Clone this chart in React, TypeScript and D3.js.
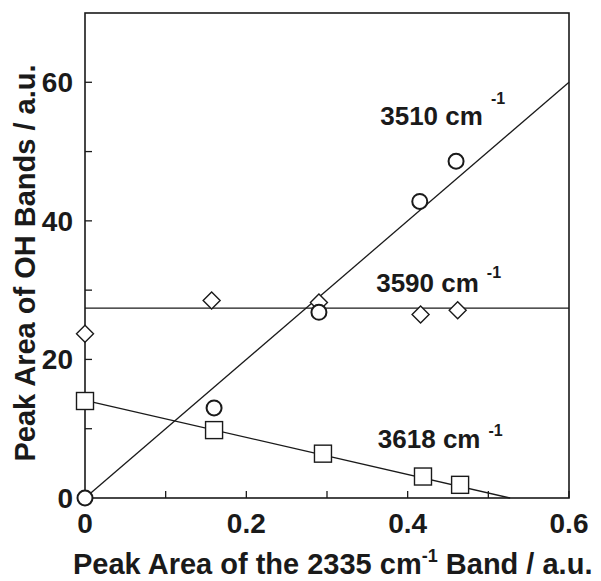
import React from "react";
import * as d3 from "d3";

// ---- data ----
const circleX = [0, 0.16, 0.29, 0.415, 0.46];
const circleY = [0, 13, 26.8, 42.8, 48.6];
const diamondX = [0, 0.157, 0.29, 0.416, 0.462];
const diamondY = [23.7, 28.5, 28.2, 26.5, 27.1];
const squareX = [0, 0.16, 0.295, 0.419, 0.465];
const squareY = [14, 9.8, 6.4, 3.1, 1.9];

const fit3510X = [0, 0.6];
const fit3510Y = [0, 60];
const fit3590X = [0, 0.6];
const fit3590Y = [27.4, 27.4];
const fit3618X = [0, 0.527];
const fit3618Y = [14.1, 0];

const xMajorTicks = [0, 0.2, 0.4, 0.6];
const xMinorTicks = [0.1, 0.3, 0.5];
const yMajorTicks = [0, 20, 40, 60];
const yMinorTicks = [10, 30, 50];

const bandLabels = ["3510 cm", "3590 cm", "3618 cm"];
const bandLabelX = [0.366, 0.361, 0.363];
const bandLabelY = [53.8, 29.7, 7.2];
const bandSupDy = [-21, -14, -12];

const W = 601;
const H = 581;
const FONT = "'Liberation Sans', Arial, Helvetica, sans-serif";
const INK = "#1a1a1a";

export default function App() {
  const x = d3.scaleLinear().domain([0, 0.6]).range([85, 569]);
  const y = d3.scaleLinear().domain([0, 70]).range([498, 13]);
  const line = d3
    .line<[number, number]>()
    .x((d) => x(d[0]))
    .y((d) => y(d[1]));
  const zip = (a: number[], b: number[]) =>
    a.map((v, i) => [v, b[i]] as [number, number]);

  const tickLen = 7;

  return (
    <svg
      width={W}
      height={H}
      style={{ position: "absolute", left: 0, top: 0, background: "#fff" }}
      fontFamily={FONT}
    >
      <rect x={0} y={0} width={W} height={H} fill="#fff" />
      {/* frame */}
      <rect
        x={x(0)}
        y={y(70)}
        width={x(0.6) - x(0)}
        height={y(0) - y(70)}
        fill="none"
        stroke={INK}
        strokeWidth={1.6}
      />
      {/* ticks */}
      {[...xMajorTicks, ...xMinorTicks].map((t, i) => (
        <line
          key={"xt" + i}
          x1={x(t)}
          x2={x(t)}
          y1={y(0)}
          y2={y(0) - tickLen}
          stroke={INK}
          strokeWidth={1.3}
        />
      ))}
      {[...yMajorTicks, ...yMinorTicks].map((t, i) => (
        <line
          key={"yt" + i}
          x1={x(0)}
          x2={x(0) + tickLen}
          y1={y(t)}
          y2={y(t)}
          stroke={INK}
          strokeWidth={1.3}
        />
      ))}
      {/* tick labels */}
      {xMajorTicks.map((t, i) => (
        <text
          key={"xl" + i}
          x={x(t)}
          y={533}
          textAnchor="middle"
          fontSize={28}
          fontWeight="bold"
          fill={INK}
        >
          {t === 0 ? "0" : d3.format(".1f")(t)}
        </text>
      ))}
      {yMajorTicks.map((t, i) => (
        <text
          key={"yl" + i}
          x={73}
          y={y(t) + 10}
          textAnchor="end"
          fontSize={28}
          fontWeight="bold"
          fill={INK}
        >
          {t}
        </text>
      ))}
      {/* fit lines */}
      <path d={line(zip(fit3510X, fit3510Y)) || ""} fill="none" stroke={INK} strokeWidth={1.3} />
      <path d={line(zip(fit3590X, fit3590Y)) || ""} fill="none" stroke={INK} strokeWidth={1.3} />
      <path d={line(zip(fit3618X, fit3618Y)) || ""} fill="none" stroke={INK} strokeWidth={1.3} />
      {/* markers */}
      {diamondX.map((v, i) => {
        const cx = x(v);
        const cy = y(diamondY[i]);
        const r = 8.5;
        return (
          <path
            key={"d" + i}
            d={`M${cx},${cy - r}L${cx + r},${cy}L${cx},${cy + r}L${cx - r},${cy}Z`}
            fill="#fff"
            stroke={INK}
            strokeWidth={1.4}
          />
        );
      })}
      {squareX.map((v, i) => (
        <rect
          key={"s" + i}
          x={x(v) - 8.5}
          y={y(squareY[i]) - 8.5}
          width={17}
          height={17}
          fill="#fff"
          stroke={INK}
          strokeWidth={1.4}
        />
      ))}
      {circleX.map((v, i) => (
        <circle
          key={"c" + i}
          cx={x(v)}
          cy={y(circleY[i])}
          r={7.5}
          fill="#fff"
          stroke={INK}
          strokeWidth={2}
        />
      ))}
      {/* band labels */}
      {bandLabels.map((lab, i) => (
        <text
          key={"bl" + i}
          x={x(bandLabelX[i])}
          y={y(bandLabelY[i])}
          fontSize={26}
          fontWeight="bold"
          fill={INK}
        >
          {lab}
          <tspan dx={8} dy={bandSupDy[i]} fontSize={16}>
            -1
          </tspan>
        </text>
      ))}
      {/* axis titles */}
      <text x={73} y={574} fontSize={29} fontWeight="bold" fill={INK}>
        Peak Area of the 2335 cm
        <tspan dy={-12} fontSize={18}>
          -1
        </tspan>
        <tspan dy={12}> Band / a.u.</tspan>
      </text>
      <text
        transform={`translate(35,263) rotate(-90)`}
        textAnchor="middle"
        fontSize={29}
        fontWeight="bold"
        fill={INK}
      >
        Peak Area of OH Bands / a.u.
      </text>
    </svg>
  );
}
